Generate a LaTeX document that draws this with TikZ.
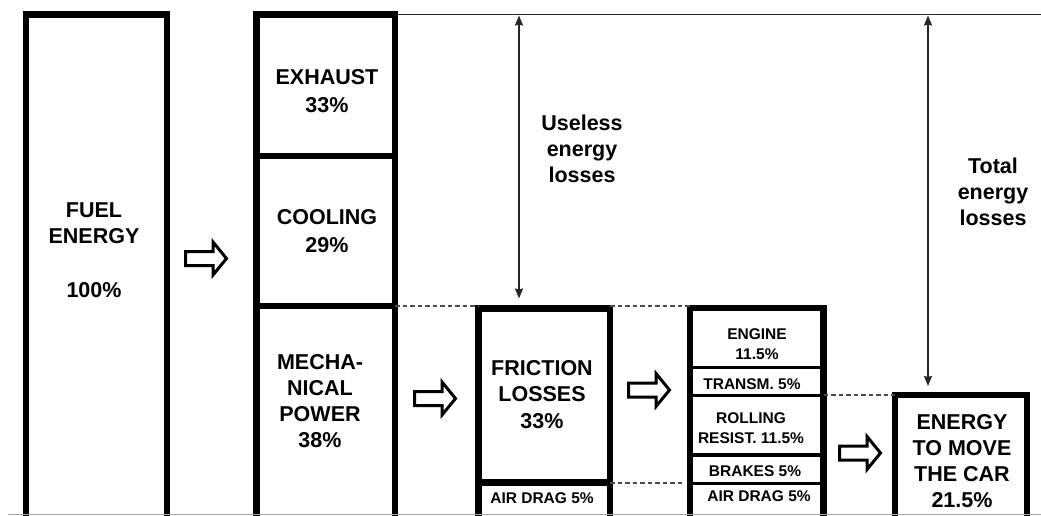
\documentclass[tikz,border=0pt]{standalone}
\usepackage{fontspec}
\setmainfont{Liberation Sans}
\usetikzlibrary{arrows.meta}
\begin{document}
\begin{tikzpicture}[x=1pt,y=-1pt,
  box/.style 2 args={draw, line width=6.5pt, minimum width=#1, minimum height=#2,
    anchor=north west, inner sep=0pt, outer sep=0pt},
  big/.style={font=\fontsize{21.5}{26}\selectfont\bfseries, align=center, inner sep=0pt},
  small/.style={font=\fontsize{15.5}{20}\selectfont\bfseries, align=center, inner sep=0pt},
  divider/.style={line width=3.5pt},
  guide/.style={line width=2pt, black!70, dash pattern=on 4.5pt off 3pt},
  dim/.style={line width=1.8pt, black!85,
    {Stealth[length=10pt,width=8pt,inset=1pt]}-{Stealth[length=10pt,width=8pt,inset=1pt]}},
  harrow/.pic={\draw[line width=3pt, line join=miter]
    (1.5,-7) -- (29,-7) -- (29,-16.5) -- (42.5,0) -- (29,16.5) -- (29,7) -- (1.5,7) -- cycle;}
]
\useasboundingbox (0,0) rectangle (1041,516);
\clip (0,0) rectangle (1041,516);

% boxes
\node[box={141}{520}] (fuel) at (26,14.5) {};
\node[box={138.5}{141.5}] (exh) at (256.5,14.5) {};
\node[box={138.5}{150}] (cool) at (256.5,156) {};
\node[box={138.5}{220}] (mech) at (256.5,306) {};
\node[box={131.5}{174}] (fric) at (478.5,308.5) {};
\node[box={131.5}{60}] (fair) at (478.5,482.5) {};
\node[box={133.5}{220}] (b3) at (690,308) {};
\node[box={132}{130}] (fin) at (895,395) {};

% dividers of box 3
\draw[divider] (b3.west |- 0,367.5) -- (b3.east |- 0,367.5);
\draw[divider] (b3.west |- 0,395.5) -- (b3.east |- 0,395.5);
\draw[divider] (b3.west |- 0,455) -- (b3.east |- 0,455);
\draw[divider] (b3.west |- 0,483.5) -- (b3.east |- 0,483.5);

% top reference line
\coordinate (lineEnd) at (1041,14.5);
\draw[line width=1.8pt, black!85] (exh.north east) -- (lineEnd);

% dashed guides
\draw[guide] (mech.north east) -- (mech.north east -| fric.west);
\draw[guide] (fric.north east |- mech.north east) -- (mech.north east -| b3.west);
\draw[guide, shorten >=8pt] (fair.north east) -- (fair.north east -| b3.west);
\draw[guide] (b3.east |- fin.north) -- (fin.north west);

% dimension arrows
\coordinate (uTop) at (519,15.5);
\coordinate (tTop) at (928,15.5);
\draw[dim, shorten >=10pt] (uTop) -- (uTop |- fric.north);
\draw[dim, shorten >=9pt] (tTop) -- (tTop |- fin.north);

% hollow arrows
\pic (a1) at (184,258.5) {harrow};
\pic (a2) at (413,398.5) {harrow};
\pic (a3) at (627,390) {harrow};
\pic (a4) at (838,453) {harrow};

% texts
\node[big] (tfuel) at (94,250) {FUEL\\ENERGY\\[28pt]100\%};
\node[big] (texh) at (327,91) {EXHAUST\\[2pt]33\%};
\node[big] (tcool) at (327,231) {COOLING\\[2pt]29\%};
\node[big] (tmech) at (320,401) {MECHA-\\NICAL\\POWER\\38\%};
\node[big] (tfric) at (542,394.5) {FRICTION\\LOSSES\\[1.5pt]33\%};
\node[small] (tfair) at (542,498) {AIR DRAG 5\%};
\node[big] (tuse) at (582,148.5) {Useless\\energy\\losses};
\node[big] (ttot) at (993,191.5) {Total\\energy\\losses};
\node[small] (teng) at (757,344) {ENGINE\\11.5\%};
\node[small] (ttr) at (752,384) {TRANSM. 5\%};
\node[small] (troll) at (751,428) {ROLLING\\RESIST. 11.5\%};
\node[small] (tbr) at (755,471) {BRAKES 5\%};
\node[small] (tair2) at (759,496) {AIR DRAG 5\%};
\node[big] (tfin) at (962,461.5) {ENERGY\\TO MOVE\\THE CAR\\21.5\%};

% bottom edge
\draw[line width=1pt, black!35] (8,514.5) -- (lineEnd |- 0,514.5);
\end{tikzpicture}
\end{document}
